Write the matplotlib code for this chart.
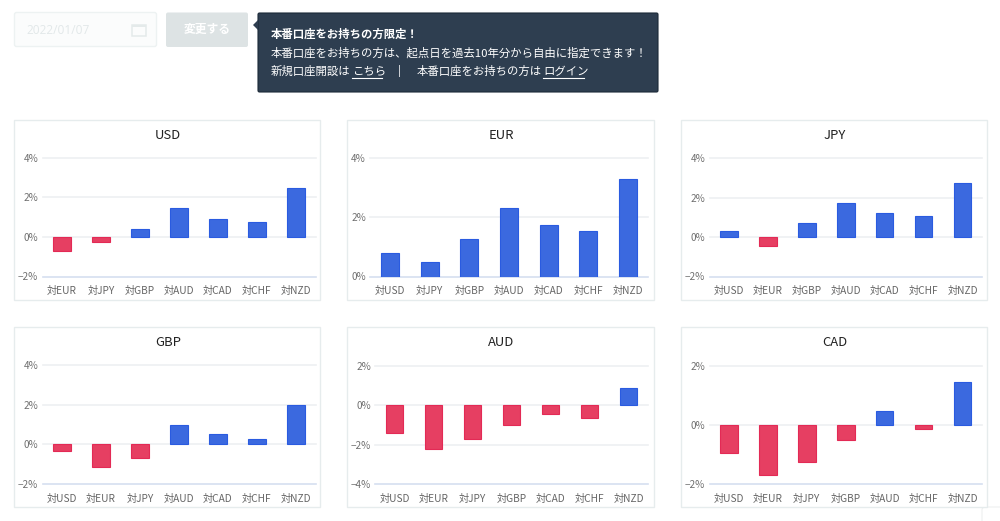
import matplotlib
matplotlib.use("Agg")
import matplotlib.pyplot as plt
from matplotlib.patches import FancyBboxPatch, Rectangle, Polygon

plt.rcParams['font.family'] = ['Noto Sans CJK JP', 'DejaVu Sans']

W, H = 1000, 521

usd_labels = ['対EUR', '対JPY', '対GBP', '対AUD', '対CAD', '対CHF', '対NZD']
eur_labels = ['対USD', '対JPY', '対GBP', '対AUD', '対CAD', '対CHF', '対NZD']
jpy_labels = ['対USD', '対EUR', '対GBP', '対AUD', '対CAD', '対CHF', '対NZD']
gbp_labels = ['対USD', '対EUR', '対JPY', '対AUD', '対CAD', '対CHF', '対NZD']
aud_labels = ['対USD', '対EUR', '対JPY', '対GBP', '対CAD', '対CHF', '対NZD']
cad_labels = ['対USD', '対EUR', '対JPY', '対GBP', '対AUD', '対CHF', '対NZD']

usd_values = [-0.72, -0.28, 0.38, 1.45, 0.92, 0.73, 2.45]
eur_values = [0.8, 0.5, 1.25, 2.3, 1.75, 1.55, 3.28]
jpy_values = [0.3, -0.45, 0.7, 1.72, 1.22, 1.05, 2.72]
gbp_values = [-0.35, -1.15, -0.7, 1.0, 0.5, 0.28, 2.0]
aud_values = [-1.4, -2.2, -1.72, -1.0, -0.45, -0.65, 0.9]
cad_values = [-0.95, -1.7, -1.25, -0.52, 0.48, -0.15, 1.43]

usd_ticks = [-2, 0, 2, 4]
eur_ticks = [0, 2, 4]
jpy_ticks = [-2, 0, 2, 4]
gbp_ticks = [-2, 0, 2, 4]
aud_ticks = [-4, -2, 0, 2]
cad_ticks = [-2, 0, 2]

fig = plt.figure(figsize=(W / 100, H / 100), dpi=100, facecolor='white')

# Page layer in pixel coordinates
page = fig.add_axes([0, 0, 1, 1])
page.set_xlim(0, W)
page.set_ylim(H, 0)
page.axis('off')

# Date input and button
page.add_patch(FancyBboxPatch((14.5, 12.5), 142, 34, boxstyle='round,pad=0,rounding_size=2',
                              fc='#fbfcfc', ec='#edf2f2', lw=1))
page.text(26, 30, '2022/01/07', fontsize=8.6, color='#e2e8e9', va='center', ha='left',
          family=['Open Sans', 'DejaVu Sans'])
page.add_patch(Rectangle((131.5, 24.5), 14, 11.5, fc='none', ec='#e4eaea', lw=1.1))
page.add_patch(Rectangle((131.5, 24.5), 14, 2, fc='#e4eaea', ec='none'))
page.add_patch(FancyBboxPatch((166, 12.5), 82, 34.5, boxstyle='round,pad=0,rounding_size=2',
                              fc='#dde3e4', ec='none'))
page.text(207, 29.5, '変更する', fontsize=8.5, color='white', fontweight='bold',
          va='center', ha='center')

# Notice box
page.add_patch(FancyBboxPatch((258, 13), 400, 79, boxstyle='round,pad=0,rounding_size=1.5',
                              fc='#2e3e50', ec='#1c2a38', lw=0.8))
page.add_patch(Polygon([(258, 20), (253, 25), (258, 30)], fc='#2e3e50', ec='none'))
FS = 8.2
page.text(271, 34.5, '本番口座をお持ちの方限定！', fontsize=FS, color='white',
          fontweight='bold', va='center')
page.text(271, 53, '本番口座をお持ちの方は、起点日を過去10年分から自由に指定できます！',
          fontsize=FS, color='white', va='center')
page.text(271, 71.5, '新規口座開設は', fontsize=FS, color='white', va='center')
page.text(352, 71.5, 'こちら', fontsize=FS, color='white', va='center')
page.plot([352, 382], [77.5, 77.5], color='white', lw=0.8)
page.text(399, 71, '|', fontsize=FS, color='white', va='center', ha='center')
page.text(417, 71.5, '本番口座をお持ちの方は', fontsize=FS, color='white', va='center')
page.text(543, 71.5, 'ログイン', fontsize=FS, color='white', va='center')
page.plot([543, 584], [77.5, 77.5], color='white', lw=0.8)

# Small corner card at bottom right
page.add_patch(FancyBboxPatch((982, 507), 30, 30, boxstyle='round,pad=0,rounding_size=3',
                              fc='white', ec='#eef0f0', lw=0.8))

PANELS = [
    ('USD', usd_labels, usd_values, usd_ticks, (14, 120, 320, 300), (42.5, 315.5), 157.5, 276.5),
    ('EUR', eur_labels, eur_values, eur_ticks, (347, 120, 654, 300), (370, 648), 158, 276.5),
    ('JPY', jpy_labels, jpy_values, jpy_ticks, (681, 120, 987, 300), (709.5, 982), 158, 276.5),
    ('GBP', gbp_labels, gbp_values, gbp_ticks, (14, 327, 320, 507), (42.5, 315.5), 365, 484),
    ('AUD', aud_labels, aud_values, aud_ticks, (347, 327, 654, 507), (375, 648), 366, 484),
    ('CAD', cad_labels, cad_values, cad_ticks, (681, 327, 987, 507), (709.5, 982), 365.5, 484),
]

for title, labels, values, ticks, box, xr, ytop, ybot in PANELS:
    x0, y0, x1, y1 = box
    page.add_patch(Rectangle((x0 - .5 + .5, y0 - .5 + .5), x1 - x0, y1 - y0, fc='white', ec='#e6eced', lw=1))
    page.text((x0 + x1) / 2 + 1, y0 + 15.5, title, fontsize=9.4, color='#222222',
              ha='center', va='center')

    ax = fig.add_axes([xr[0] / W, 1 - ybot / H, (xr[1] - xr[0]) / W, (ybot - ytop) / H])
    ax.patch.set_alpha(0)
    ax.set_xlim(-0.5, len(values) - 0.5)
    ax.set_ylim(min(ticks), max(ticks))
    for s in ax.spines.values():
        s.set_visible(False)
    for t in ticks:
        is_base = t == min(ticks)
        ax.axhline(t, color='#d6dff0' if is_base else '#eef0f2', lw=1.2, zorder=1, clip_on=False)
    colors = ['#3b69df' if v >= 0 else '#e63f62' for v in values]
    edges = ['#2a5be0' if v >= 0 else '#e32a55' for v in values]
    ax.bar(range(len(values)), values, width=0.45, color=colors, edgecolor=edges, lw=0.8, zorder=3)
    ax.set_xticks(range(len(values)))
    ax.set_xticklabels(labels, fontsize=7.3, color='#666666')
    ax.set_yticks(ticks)
    ax.set_yticklabels([f'{t}%'.replace('-', '−') for t in ticks], fontsize=7.2, color='#707070')
    ax.tick_params(axis='y', length=0, pad=3)
    ax.tick_params(axis='x', length=0, pad=7)

fig.savefig('out.png', dpi=100)
